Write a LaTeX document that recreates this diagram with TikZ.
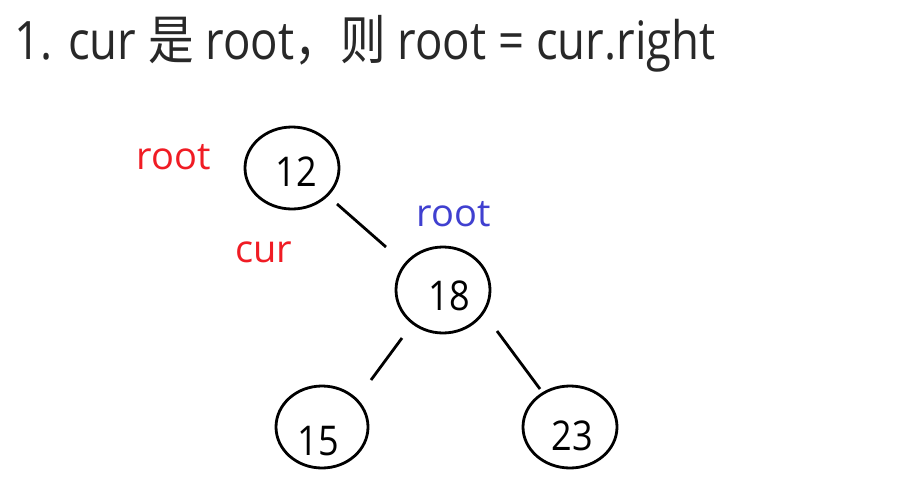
\documentclass[tikz,border=0pt]{standalone}
\usepackage{fontspec}
\usetikzlibrary{shapes.geometric}
\setmainfont{Open Sans}
\newfontfamily\titlefont[FakeStretch=0.86]{Open Sans}
\newfontfamily\cjk[FakeStretch=0.86]{Noto Sans CJK SC}
\newfontfamily\numfont[FakeStretch=0.88]{Open Sans}
\definecolor{lblred}{RGB}{240,28,36}
\definecolor{lblblue}{RGB}{64,64,208}
\tikzset{
  treenode/.style={draw=black, line width=2.8pt, ellipse, minimum width=94pt, minimum height=82pt, inner sep=0pt},
  numtext/.style={font=\numfont\fontsize{41}{41}\selectfont, text=black},
  lbl/.style={font=\fontsize{38}{38}\selectfont, inner sep=0pt},
  edge/.style={line width=2.8pt, draw=black}
}
\begin{document}
\begin{tikzpicture}[x=1pt,y=-1pt]
\useasboundingbox[fill=white] (0,0) rectangle (915,479);
% title
\node[anchor=base west, inner sep=0pt, font=\titlefont\fontsize{53}{53}\selectfont, text={rgb,255:red,40;green,40;blue,40}] (title) at (14,59)
  {1. cur {\cjk 是} root{\cjk ，}{\cjk 则} root = cur.right};
% tree nodes
\node[treenode] (n12) at (292,168) {};
\node[treenode, minimum height=86pt] (n18) at (443,290) {};
\node[treenode, minimum width=92pt] (n15) at (322,427) {};
\node[treenode] (n23) at (570,427) {};
\node[numtext] (t12) at (296,172) {12};
\node[numtext] (t18) at (449,296) {18};
\node[numtext] (t15) at (318,441) {15};
\node[numtext] (t23) at (572,436) {23};
% edge gap points
\coordinate (e1a) at (337,204);
\coordinate (e1b) at (386,247);
\coordinate (e2a) at (402,338);
\coordinate (e2b) at (371,380);
\coordinate (e3a) at (497,331);
\coordinate (e3b) at (540,389);
\draw[edge] (e1a) -- (e1b);
\draw[edge] (e2a) -- (e2b);
\draw[edge] (e3a) -- (e3b);
% labels
\node[lbl, text=lblred] (rootred) at (174,157) {root};
\node[lbl, text=lblred] (curred) at (264,252) {cur};
\node[lbl, text=lblblue] (rootblue) at (454,214) {root};
\end{tikzpicture}
\end{document}
